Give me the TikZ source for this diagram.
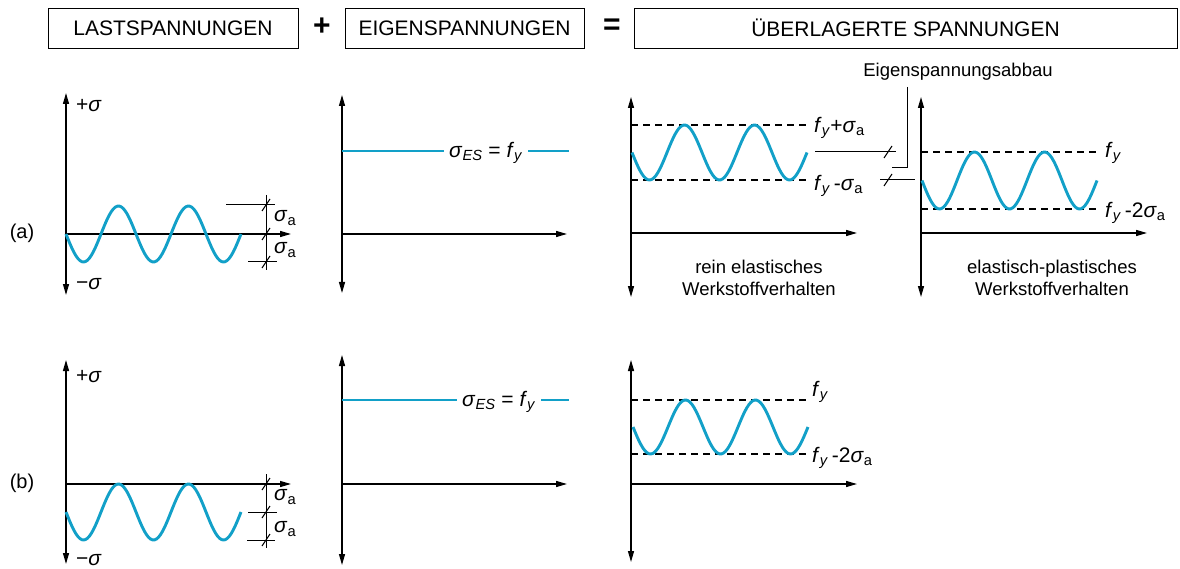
\documentclass[tikz,border=0pt]{standalone}
\usepackage{fontspec}
\setmainfont{Liberation Sans}
\usetikzlibrary{arrows.meta, positioning}

\definecolor{wavecol}{RGB}{18,160,200}
\newcommand{\sig}{\textit{σ}}
\newcommand{\siga}{\textit{σ}\textsubscript{a}}
\newcommand{\fy}{\textit{f}\textsubscript{\textit{y}}}
\newcommand{\dimtick}[1]{\draw[dimline] (#1) +(-4,6) -- +(4,-6);}

\begin{document}
\begin{tikzpicture}[x=1pt, y=-1pt, font=\fontsize{18.5}{22}\selectfont]
\useasboundingbox (0,0) rectangle (1180,569);

\tikzset{headbox/.style = {draw, line width=0.9pt, minimum height=40pt, inner sep=0pt, font=\fontsize{21}{24}\selectfont}}
\tikzset{yaxis/.style = {line width=1.3pt, {Triangle[length=11pt,width=6pt]}-{Triangle[length=11pt,width=6pt]}}}
\tikzset{xaxis/.style = {line width=1.3pt, -{Triangle[length=11pt,width=6pt]}}}
\tikzset{wave/.style = {wavecol, line width=2.9pt}}
\tikzset{level/.style = {dash pattern=on 7pt off 5pt, line width=1.1pt}}
\tikzset{dimline/.style = {line width=1pt}}
\tikzset{sym/.style = {font=\fontsize{21}{24}\selectfont, inner sep=2pt}}
\tikzset{wavelabel/.style = {sym, fill=white, inner sep=5pt}}

% header
\node[headbox, minimum width=250pt] (hLast) at (173,28) {LASTSPANNUNGEN};
\node[font=\fontsize{30}{30}\selectfont\bfseries] (hPlus) at (322,27) {+};
\node[headbox, minimum width=239pt] (hEigen) at (464.5,28) {EIGENSPANNUNGEN};
\node[font=\fontsize{30}{30}\selectfont\bfseries] (hEq) at (612,27) {=};
\node[headbox, minimum width=543pt] (hSum) at (905.5,28) {ÜBERLAGERTE SPANNUNGEN};

\node[font=\fontsize{20}{24}\selectfont] (rowA) at (22,233) {(a)};
\node[font=\fontsize{20}{24}\selectfont] (rowB) at (22,483) {(b)};

% (a) Lastspannungen
\coordinate (la0) at (66,234);
\coordinate (laT) at (66,93);
\coordinate (laB) at (66,295);
\coordinate (laX) at (291,234);
\draw[yaxis] (laB) -- (laT);
\draw[xaxis] (la0) -- (laX);
\draw[wave] plot[domain=0:175, samples=90, smooth] ({66+\x}, {234+28*sin(5.142857*\x)});
\node[sym, anchor=west] (laPlus) at (74,106) {+\sig};
\node[sym, anchor=west] (laMinus) at (74,284) {−\sig};
\coordinate (laD1) at (266,195);
\coordinate (laD2) at (266,270);
\coordinate (laE1) at (226,205);
\coordinate (laE2) at (275,205);
\coordinate (laE3) at (248,262);
\coordinate (laE4) at (277,262);
\draw[dimline] (laD1) -- (laD2);
\draw[dimline] (laE1) -- (laE2);
\draw[dimline] (laE3) -- (laE4);
\dimtick{266,205} \dimtick{266,234} \dimtick{266,262}
\node[sym, anchor=west] (laS1) at (272,218) {\siga};
\node[sym, anchor=west] (laS2) at (272,250) {\siga};

% (a) Eigenspannungen
\coordinate (ma0) at (342,234);
\coordinate (maT) at (342,95);
\coordinate (maB) at (342,293);
\coordinate (maX) at (567,234);
\draw[yaxis] (maB) -- (maT);
\draw[xaxis] (ma0) -- (maX);
\coordinate (maL) at (342,151);
\coordinate (maR) at (569,151);
\node[wavelabel] (maES) at (486,153) {\sig\textsubscript{\textit{ES}} = \fy};
\draw[wave] (maL) -- (maES.west |- maL);
\draw[wave] (maES.east |- maR) -- (maR);

% (a) rein elastisch
\coordinate (ra0) at (631,233);
\coordinate (raT) at (631,97);
\coordinate (raB) at (631,297);
\coordinate (raX) at (857,233);
\draw[yaxis] (raB) -- (raT);
\draw[xaxis] (ra0) -- (raX);
\coordinate (raU) at (631,125);
\coordinate (raU2) at (806,125);
\coordinate (raL) at (631,180);
\coordinate (raL2) at (806,180);
\draw[level] (raU) -- (raU2);
\draw[level] (raL) -- (raL2);
\draw[wave] plot[domain=0:175, samples=90, smooth] ({632+\x}, {152.5+27.5*sin(5.142857*\x)});
\node[sym, anchor=west] (raU3) at (812,128) {\fy+\siga};
\node[sym, anchor=west] (raL3) at (812,186) {\fy\,-\siga};
\node[align=center] (raText) at (759,278) {rein elastisches\\Werkstoffverhalten};

% Eigenspannungsabbau
\coordinate (abA1) at (815,152);
\coordinate (abA2) at (896,152);
\coordinate (abB1) at (880,180);
\coordinate (abB2) at (915,180);
\draw[dimline] (abA1) -- (abA2);
\draw[dimline] (abB1) -- (abB2);
\dimtick{888,152} \dimtick{888,180}
\node (abText) at (958,72) {Eigenspannungsabbau};
\coordinate (abK1) at (907,87);
\coordinate (abK2) at (907,167);
\coordinate (abK3) at (892,167);
\draw[line width=0.7pt] (abK1) -- (abK2) -- (abK3);

% (a) elastisch-plastisch
\coordinate (pa0) at (921,233);
\coordinate (paT) at (921,97);
\coordinate (paB) at (921,297);
\coordinate (paX) at (1147,233);
\draw[yaxis] (paB) -- (paT);
\draw[xaxis] (pa0) -- (paX);
\coordinate (paU) at (921,152);
\coordinate (paU2) at (1100,152);
\coordinate (paL) at (921,209);
\coordinate (paL2) at (1100,209);
\draw[level] (paU) -- (paU2);
\draw[level] (paL) -- (paL2);
\draw[wave] plot[domain=0:175, samples=90, smooth] ({922+\x}, {180.5+28.5*sin(5.142857*\x)});
\node[sym, anchor=west] (paU3) at (1103,153) {\fy};
\node[sym, anchor=west] (paL3) at (1103,213) {\fy\,-2\siga};
\node[align=center] (paText) at (1052,278) {elastisch-plastisches\\Werkstoffverhalten};

% (b) Lastspannungen
\coordinate (lb0) at (66,484);
\coordinate (lbT) at (66,360);
\coordinate (lbB) at (66,564);
\coordinate (lbX) at (291,484);
\draw[yaxis] (lbB) -- (lbT);
\draw[xaxis] (lb0) -- (lbX);
\draw[wave] plot[domain=0:175, samples=90, smooth] ({66+\x}, {512+28*sin(5.142857*\x)});
\node[sym, anchor=west] (lbPlus) at (74,377) {+\sig};
\node[sym, anchor=west] (lbMinus) at (74,560) {−\sig};
\coordinate (lbD1) at (266,474);
\coordinate (lbD2) at (266,548);
\coordinate (lbE1) at (248,512);
\coordinate (lbE2) at (277,512);
\coordinate (lbE3) at (247,540);
\coordinate (lbE4) at (275,540);
\draw[dimline] (lbD1) -- (lbD2);
\draw[dimline] (lbE1) -- (lbE2);
\draw[dimline] (lbE3) -- (lbE4);
\dimtick{266,484} \dimtick{266,512} \dimtick{266,540}
\node[sym, anchor=west] (lbS1) at (272,497) {\siga};
\node[sym, anchor=west] (lbS2) at (272,529) {\siga};

% (b) Eigenspannungen
\coordinate (mb0) at (342,484);
\coordinate (mbT) at (342,355);
\coordinate (mbB) at (342,565);
\coordinate (mbX) at (567,484);
\draw[yaxis] (mbB) -- (mbT);
\draw[xaxis] (mb0) -- (mbX);
\coordinate (mbL) at (342,400);
\coordinate (mbR) at (569,400);
\node[wavelabel] (mbES) at (499,402) {\sig\textsubscript{\textit{ES}} = \fy};
\draw[wave] (mbL) -- (mbES.west |- mbL);
\draw[wave] (mbES.east |- mbR) -- (mbR);

% (b) ueberlagert
\coordinate (rb0) at (631,484);
\coordinate (rbT) at (631,360);
\coordinate (rbB) at (631,562);
\coordinate (rbX) at (857,484);
\draw[yaxis] (rbB) -- (rbT);
\draw[xaxis] (rb0) -- (rbX);
\coordinate (rbU) at (631,400);
\coordinate (rbU2) at (810,400);
\coordinate (rbL) at (631,454);
\coordinate (rbL2) at (810,454);
\draw[level] (rbU) -- (rbU2);
\draw[level] (rbL) -- (rbL2);
\draw[wave] plot[domain=0:175, samples=90, smooth] ({633+\x}, {427+27*sin(5.142857*\x)});
\node[sym, anchor=west] (rbU3) at (810,392) {\fy};
\node[sym, anchor=west] (rbL3) at (810,458) {\fy\,-2\siga};
\end{tikzpicture}
\end{document}
